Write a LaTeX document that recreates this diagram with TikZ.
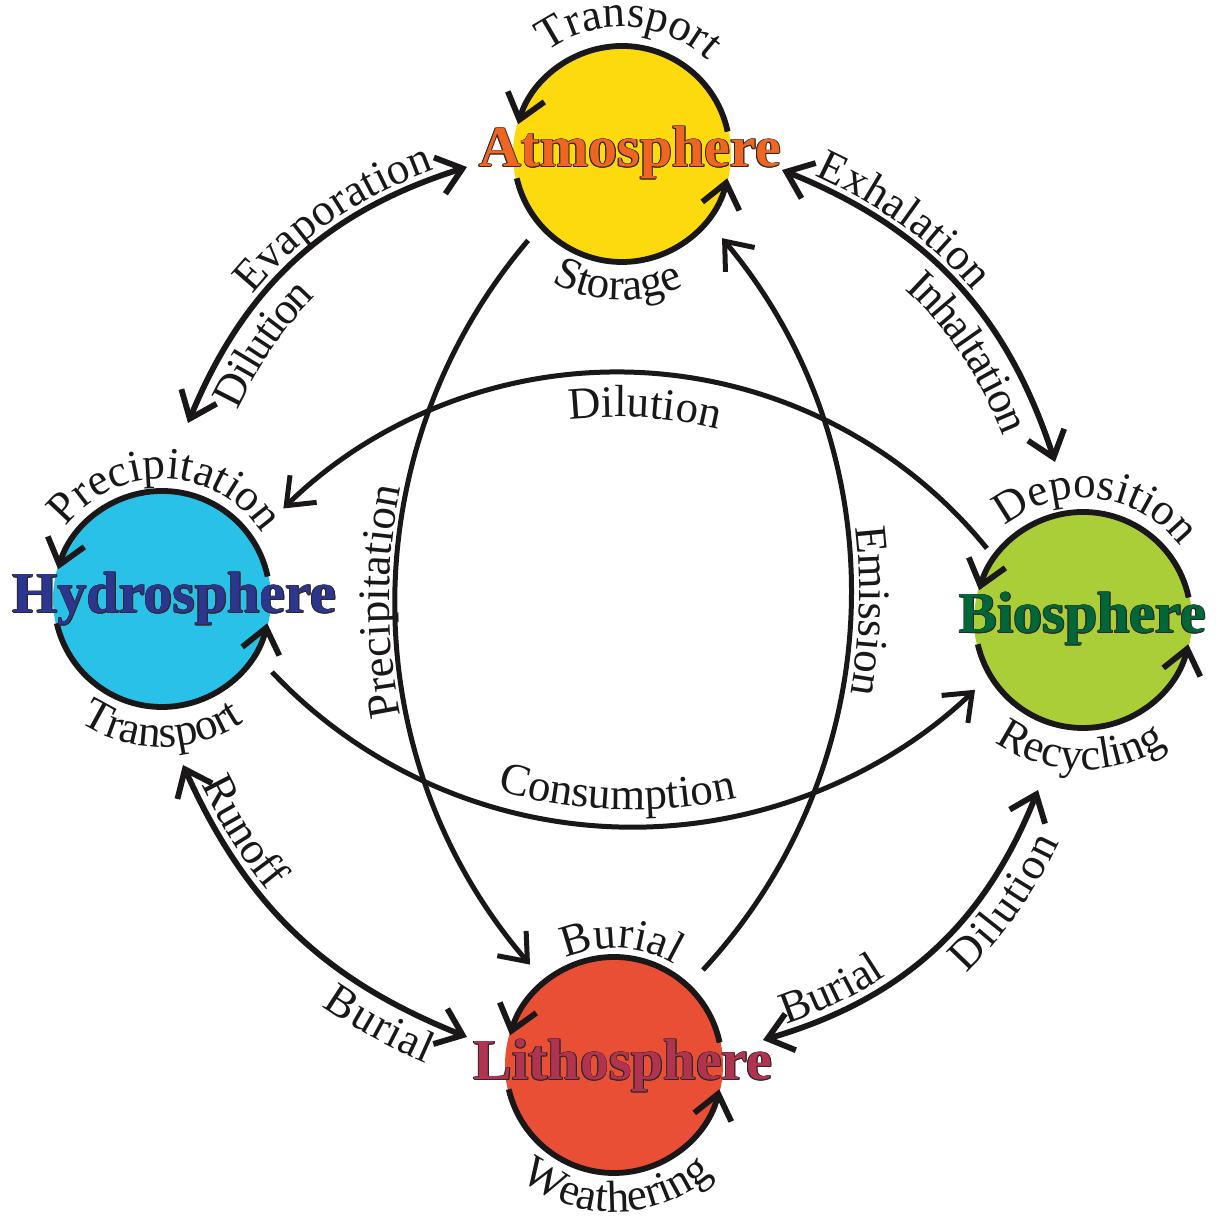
\documentclass[tikz,border=0pt]{standalone}
\usepackage{fontspec}
\setmainfont{Liberation Serif}
\usetikzlibrary{arrows.meta,decorations.text,calc}
\definecolor{ink}{RGB}{26,23,24}
\definecolor{outl}{RGB}{45,40,40}
\definecolor{yelfill}{RGB}{253,218,14}
\definecolor{cyafill}{RGB}{41,193,231}
\definecolor{grnfill}{RGB}{170,206,56}
\definecolor{redfill}{RGB}{232,79,52}
\definecolor{atmtxt}{RGB}{241,101,34}
\definecolor{hydtxt}{RGB}{44,54,142}
\definecolor{biotxt}{RGB}{0,104,56}
\definecolor{littxt}{RGB}{176,52,80}
\newcommand\lblfont{\fontsize{22.5}{27}\selectfont}
\newcommand\ttlfont{\fontsize{29}{34}\selectfont\bfseries}
\newcommand\sphtitle[5]{%
  \foreach \a in {0,45,...,315}{\node[ttl,text=outl] (#1-o\a) at ($(#2,#3)+(\a:0.9)$) {#5};}
  \node[ttl,text=#4] (#1) at (#2,#3) {#5};}
\begin{document}
\begin{tikzpicture}[x=0.5pt,y=0.5pt,
  ink/.style={draw=ink,line width=2.9pt},
  thinink/.style={draw=ink,line width=2.5pt},
  >={Straight Barb[length=12pt,width=19pt]},
  sphere/.style={circle,minimum size=109pt,inner sep=0pt,draw=none},
  ttl/.style={anchor=base,inner sep=0pt,font=\ttlfont},
  lab/.style={decorate,decoration={text along path,text={|\lblfont|#1},text align=center,text color=ink}},
  labx/.style n args={3}{decorate,decoration={text along path,text={|\lblfont|#1},text align={left indent=#2},raise=#3,text color=ink}}
]
\fill[white] (0,0) rectangle (1216,1216);
\useasboundingbox (0,0) rectangle (1216,1216);

% spheres
\node[sphere,fill=yelfill] (atm) at (622,1062) {};
\node[sphere,fill=cyafill] (hyd) at (162,617) {};
\node[sphere,fill=grnfill] (bio) at (1083,596) {};
\node[sphere,fill=redfill] (lit) at (614,151) {};

\foreach \s in {atm,hyd,bio,lit}{
  \draw[ink,->] ($(\s.center)+(12:108)$) arc[start angle=12,end angle=164,radius=108];
  \draw[ink,->] ($(\s.center)+(193:108)$) arc[start angle=193,end angle=347,radius=108];
}

% labels around spheres
\path[lab=Transport] ($(atm.center)+(177:127)$) arc[start angle=177,end angle=-3,radius=127];
\path[lab=Storage] ($(atm.center)+(178:146)$) arc[start angle=178,end angle=358,radius=146];
\path[lab=Precipitation] ($(hyd.center)+(178:120)$) arc[start angle=178,end angle=-2,radius=120];
\path[lab=Transport] ($(hyd.center)+(180:148)$) arc[start angle=180,end angle=360,radius=148];
\path[lab=Deposition] ($(bio.center)+(173.4:122)$) arc[start angle=173.4,end angle=-6.6,radius=122];
\path[lab=Recycling] ($(bio.center)+(179:150)$) arc[start angle=179,end angle=359,radius=150];
\path[lab=Burial] ($(lit.center)+(176.6:117)$) arc[start angle=176.6,end angle=-3.4,radius=117];
\path[lab=Weathering] ($(lit.center)+(181.2:147)$) arc[start angle=181.2,end angle=361.2,radius=147];

% outer connectors
\coordinate (ha1) at (188,793); \coordinate (ha2) at (467,1049);
\draw[ink,<->] (ha1) to[bend left=25] (ha2);
\path[labx={Evaporation}{71pt}{4pt}] (ha1) to[bend left=25] (ha2);
\path[labx={Dilution}{17pt}{-20pt}] (ha1) to[bend left=25] (ha2);

\coordinate (ab1) at (782,1046); \coordinate (ab2) at (1055,754);
\draw[ink,<->] (ab1) to[bend left=25] (ab2);
\path[labx={Exhalation}{16pt}{4pt}] (ab1) to[bend left=25] (ab2);
\path[labx={Inhaltation}{88pt}{-20pt}] (ab1) to[bend left=25] (ab2);

\coordinate (hl1) at (183,451); \coordinate (hl2) at (467,179);
\draw[ink,<->] (hl1) to[bend right=22] (hl2);
\path[labx={Runoff}{13pt}{4pt}] (hl1) to[bend right=22] (hl2);
\path[labx={Burial}{133pt}{-20pt}] (hl1) to[bend right=22] (hl2);

\coordinate (lb1) at (763,176); \coordinate (lb2) at (1038,426);
\draw[ink,<->] (lb1) to[bend right=26] (lb2);
\path[labx={Burial}{14pt}{4pt}] (lb1) to[bend right=26] (lb2);
\path[labx={Dilution}{100pt}{-20pt}] (lb1) to[bend right=26] (lb2);

% inner arcs
\coordinate (dC) at (617,368); \coordinate (dS) at (986.9,667.6);
\draw[thinink,->] (dS) arc[start angle=39,end angle=134.5,radius=476];
\path[lab=Dilution] ($(dC)+(146.4:431)$) arc[start angle=146.4,end angle=26.4,radius=431];

\coordinate (cC) at (632.4,885.1); \coordinate (cS) at (272,544);
\draw[thinink,->] (cS) arc[start angle=223.4,end angle=313.7,radius=496];
\path[lab=Consumption] ($(cC)+(208.1:479)$) arc[start angle=208.1,end angle=328.1,radius=479];

\coordinate (pC) at (952.3,614.7); \coordinate (pS) at (528.1,975.6);
\draw[thinink,->] (pS) arc[start angle=139.6,end angle=220.7,radius=557];
\path[lab=Precipitation] ($(pC)+(240:563)$) arc[start angle=240,end angle=120,radius=563];

\coordinate (eC) at (297.5,622.8); \coordinate (eS) at (702.9,246);
\draw[thinink,->] (eS) arc[start angle=-42.9,end angle=39.9,radius=553.5];
\path[lab=Emission] ($(eC)+(58.2:562)$) arc[start angle=58.2,end angle=-61.8,radius=562];

% titles
\sphtitle{atmT}{630}{1049}{atmtxt}{Atmosphere}
\sphtitle{hydT}{174.5}{603}{hydtxt}{Hydrosphere}
\sphtitle{bioT}{1082.5}{583}{biotxt}{Biosphere}
\sphtitle{litT}{623}{136}{littxt}{Lithosphere}
\end{tikzpicture}
\end{document}
